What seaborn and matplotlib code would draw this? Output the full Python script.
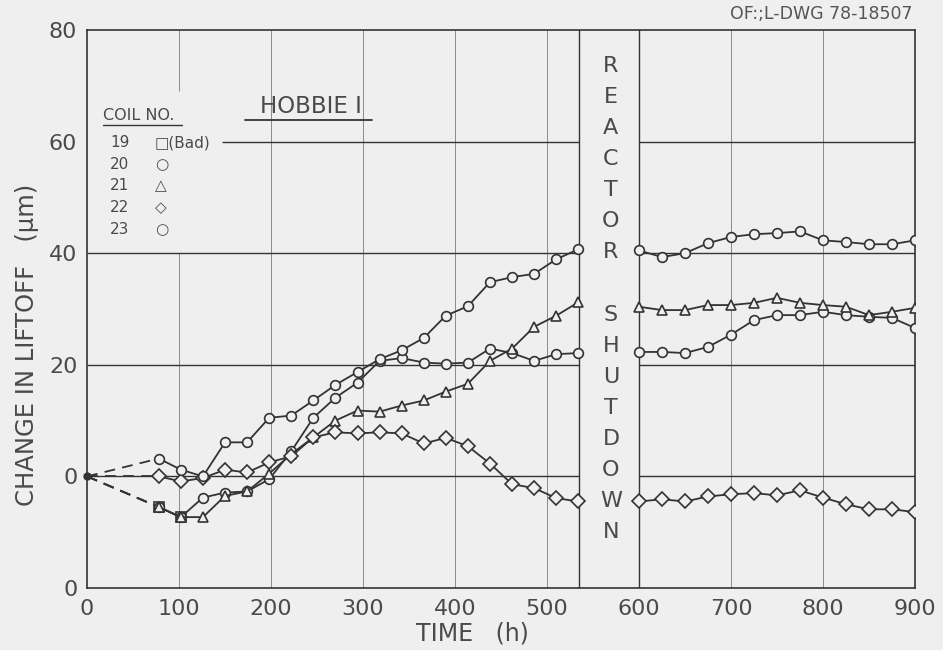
import matplotlib
matplotlib.use("Agg")
import matplotlib.pyplot as plt
import pandas as pd
import seaborn as sns

# ---------------- data ----------------
coils = ["19", "20", "21", "22", "23"]
coil_symbols = ["□(Bad)", "○", "△", "◇", "○"]

origin_time = 0
origin_change = 0.0

time_before = [78, 102, 126, 150, 174, 198, 222, 246, 270, 294,
               318, 342, 366, 390, 414, 438, 462, 486, 510, 534]
time_after = [600, 625, 650, 675, 700, 725, 750, 775, 800, 825, 850, 875, 900]

coil19_time = [78, 102]
coil19_before = [-5.5, -7.3]

coil20_before = [-5.5, -7.3, -3.8, -2.9, -2.7, -0.5, 4.5, 10.5, 14.1, 16.8,
                 20.7, 21.2, 20.4, 20.2, 20.4, 22.9, 22.1, 20.7, 21.9, 22.1]
coil20_after = [22.3, 22.3, 22.1, 23.2, 25.4, 28.0, 28.9, 28.9, 29.5, 28.9, 28.6, 28.4, 26.6]

coil21_before = [-5.5, -7.3, -7.3, -3.5, -2.7, 0.5, 4.0, 7.0, 10.0, 11.8,
                 11.6, 12.7, 13.6, 15.2, 16.6, 20.7, 22.9, 26.8, 28.8, 31.2]
coil21_after = [30.4, 29.8, 29.8, 30.7, 30.7, 31.1, 32.0, 31.1, 30.7, 30.4, 28.9, 29.5, 30.2]

coil22_before = [0.0, -0.9, -0.3, 1.2, 0.7, 2.5, 3.6, 7.0, 7.9, 7.7,
                 7.9, 7.7, 5.9, 6.9, 5.4, 2.3, -1.4, -2.1, -3.9, -4.5]
coil22_after = [-4.5, -4.1, -4.5, -3.6, -3.2, -3.0, -3.4, -2.5, -3.8, -5.0, -5.9, -5.9, -6.4]

coil23_before = [3.2, 1.2, 0.0, 6.1, 6.1, 10.5, 10.9, 13.6, 16.4, 18.7,
                 21.0, 22.6, 24.8, 28.8, 30.5, 34.8, 35.7, 36.3, 38.9, 40.7]
coil23_after = [40.5, 39.3, 40.0, 41.8, 42.9, 43.4, 43.6, 43.9, 42.3, 42.0, 41.6, 41.6, 42.3]

shutdown_start = 535
shutdown_end = 600

x_ticks = [0, 100, 200, 300, 400, 500, 600, 700, 800, 900]
x_tick_labels = ["0", "100", "200", "300", "400", "500", "600", "700", "800", "900"]
y_ticks = [-20, 0, 20, 40, 60, 80]
y_tick_labels = ["0", "0", "20", "40", "60", "80"]

# ---------------- build long tables ----------------
rows = []
def add(coil, run, times, values):
    for t, v in zip(times, values):
        rows.append({"coil": coil, "run": f"{coil}-{run}", "time": t, "change": v})

add("19", "a", coil19_time, coil19_before)
add("20", "a", time_before, coil20_before)
add("20", "b", time_after, coil20_after)
add("21", "a", time_before, coil21_before)
add("21", "b", time_after, coil21_after)
add("22", "a", time_before, coil22_before)
add("22", "b", time_after, coil22_after)
add("23", "a", time_before, coil23_before)
add("23", "b", time_after, coil23_after)
df = pd.DataFrame(rows)

init_rows = []
first_points = {"19": (coil19_time[0], coil19_before[0]),
                "20": (time_before[0], coil20_before[0]),
                "21": (time_before[0], coil21_before[0]),
                "22": (time_before[0], coil22_before[0]),
                "23": (time_before[0], coil23_before[0])}
for c, (t, v) in first_points.items():
    init_rows.append({"coil": c, "time": origin_time, "change": origin_change})
    init_rows.append({"coil": c, "time": t, "change": v})
df_init = pd.DataFrame(init_rows)

# ---------------- style ----------------
bg = "#efefef"
ink = "#333333"
grid_light = "#8a8a8a"
text_col = "#4a4a4a"

sns.set_style("white")
plt.rcParams["font.family"] = ["DejaVu Sans"]

fig = plt.figure(figsize=(9.43, 6.5), dpi=100, facecolor=bg)
ax = fig.add_axes([0.0923, 0.0954, 0.8780, 0.8585])
ax.set_facecolor(bg)

ax.set_xlim(0, 900)
ax.set_ylim(-20, 80)

# grid lines (broken by the legend block and by the shutdown band)
for gx in [200, 300, 400, 500, 700, 800]:
    ax.axvline(gx, color=grid_light, lw=0.7, zorder=1)
ax.vlines(100, -20, 40, color=grid_light, lw=0.7, zorder=1)
ax.vlines(100, 69, 80, color=grid_light, lw=0.7, zorder=1)
for gy in [0, 20, 40]:
    ax.hlines(gy, 0, shutdown_start, color=ink, lw=1.0, zorder=1)
    ax.hlines(gy, shutdown_end, 900, color=ink, lw=1.0, zorder=1)
ax.hlines(60, 147, shutdown_start, color=ink, lw=1.0, zorder=1)
ax.hlines(60, shutdown_end, 900, color=ink, lw=1.0, zorder=1)
ax.axvline(shutdown_start, color=ink, lw=1.0, zorder=1)
ax.axvline(shutdown_end, color=ink, lw=1.0, zorder=1)

# dashed start-up segments from origin
sns.lineplot(data=df_init, x="time", y="change", units="coil", estimator=None,
             color=ink, lw=1.3, linestyle=(0, (6, 4)), legend=False, ax=ax,
             sort=False, zorder=2)

marker_map = {"19": "s", "20": "o", "21": "^", "22": "D", "23": "o"}
palette = {c: ink for c in coils}
sns.lineplot(data=df, x="time", y="change", hue="coil", style="coil",
             units="run", estimator=None, palette=palette, markers=marker_map,
             dashes=False, legend=False, ax=ax, sort=False,
             lw=1.3, markersize=7, mfc=bg, mec=ink, mew=1.2, zorder=3)

ax.plot([origin_time], [origin_change], "o", color=ink, ms=5, clip_on=False, zorder=4)

# axes / ticks
for s in ax.spines.values():
    s.set_color(ink)
    s.set_linewidth(1.2)
ax.set_xticks(x_ticks)
ax.set_xticklabels(x_tick_labels)
ax.set_yticks(y_ticks)
ax.set_yticklabels(y_tick_labels)
ax.tick_params(axis="x", length=0, pad=8, labelsize=16, labelcolor=text_col)
ax.tick_params(axis="y", length=6, direction="inout", width=1, color=ink,
               pad=4, labelsize=16, labelcolor=text_col)

ax.set_xlabel("TIME   (h)", fontsize=17, color=text_col)
ax.xaxis.set_label_coords(0.465, -0.060)
ax.set_ylabel("CHANGE IN LIFTOFF   (μm)", fontsize=17.5, color=text_col)
ax.yaxis.set_label_coords(-0.058, 0.435)

# title inside plot
ax.text(243, 66.3, "HOBBIE I", fontsize=16.5, color=text_col, ha="center", va="center")
ax.plot([172, 310], [63.8, 63.8], color=ink, lw=1.3)

# coil legend table
ax.text(17, 64.6, "COIL NO.", fontsize=11.5, color=text_col, ha="left", va="center")
ax.plot([17, 103], [62.9, 62.9], color=ink, lw=1.0)
legend_y = [59.8, 55.9, 52.1, 48.2, 44.3]
for c, sym, yy in zip(coils, coil_symbols, legend_y):
    ax.text(25, yy, c, fontsize=11, color=text_col, ha="left", va="center")
    ax.text(74, yy, sym, fontsize=11, color=text_col, ha="left", va="center")

# reactor shutdown vertical lettering
letters = list("REACTOR") + [""] + list("SHUTDOWN")
x_letters = (shutdown_start + shutdown_end) / 2 + 2
for i, ch in enumerate(letters):
    if ch:
        ax.text(x_letters, 0.9355 - i * 0.0557, ch, fontsize=16, color=text_col,
                ha="center", va="center",
                transform=ax.get_xaxis_transform())

# drawing number
fig.text(0.968, 0.979, "OF:;L-DWG 78-18507", fontsize=12.5, color="#555555",
         ha="right", va="center")

fig.savefig("out.png", dpi=100, facecolor=bg)
